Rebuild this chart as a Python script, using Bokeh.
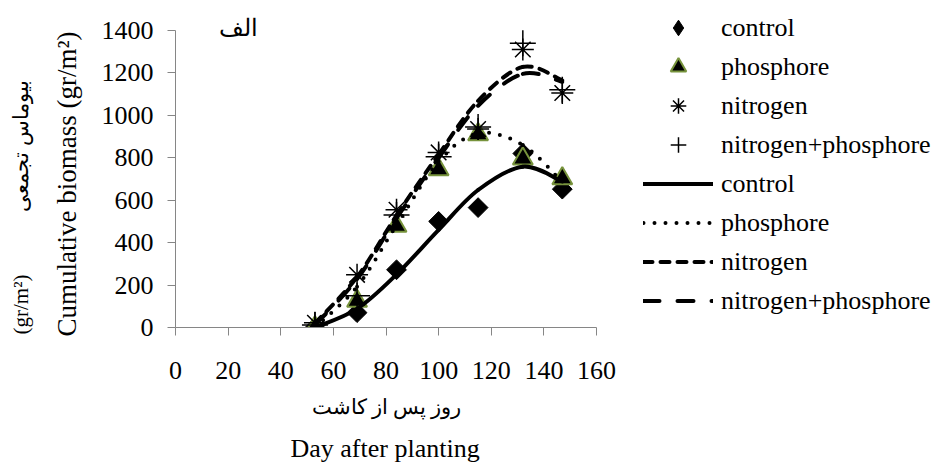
import numpy as np
from bokeh.plotting import figure
from bokeh.models import Range1d, Label, Legend, LegendItem, Title
from bokeh.embed import file_html
from bokeh.resources import INLINE

# ---------------- data ----------------
days = [53, 69, 84, 100, 115, 132, 147]

control_obs = [0, 70, 272, 500, 565, 820, 652]
phosphore_obs = [0, 125, 478, 745, 910, 795, 702]
nitrogen_obs = [22, 248, 555, 825, 935, 1310, 1105]
np_obs = [12, 150, 530, 805, 945, 1340, 1120]

control_fit = [0, 88, 250, 460, 648, 758, 688]
phosphore_fit = [0, 192, 482, 782, 915, 860, 685]
nitrogen_fit = [20, 238, 528, 815, 1068, 1228, 1165]
np_fit = [12, 228, 515, 800, 1045, 1195, 1158]

x_ticks = [0, 20, 40, 60, 80, 100, 120, 140, 160]
y_ticks = [0, 200, 400, 600, 800, 1000, 1200, 1400]

series_names = ["control", "phosphore", "nitrogen", "nitrogen+phosphore"]

FONT = "Liberation Serif"
AXIS_GREY = "#868686"
GREEN = "#77933C"
NB = "\u00a0"

# ---------------- geometry (page pixels) ----------------
W, H = 937, 463
FX0, FX1 = 175.0, 596.0      # x = 0 .. 160
FY0, FY1 = 328.0, 30.0       # y = 0 .. 1400
X_RIGHT = 160 * (W - FX0) / (FX1 - FX0)   # frame extends to canvas right
Y_TOP = 1400 * FY0 / (FY0 - FY1)          # frame extends to canvas top

p = figure(width=W, height=H, output_backend="svg", toolbar_location=None,
           x_range=Range1d(0, X_RIGHT), y_range=Range1d(0, Y_TOP),
           min_border_left=int(FX0), min_border_right=0,
           min_border_top=0, min_border_bottom=int(H - FY0))
p.outline_line_color = None
p.grid.visible = False
p.background_fill_color = "white"
p.border_fill_color = "white"

for ax in (p.xaxis[0], p.yaxis[0]):
    ax.axis_line_color = AXIS_GREY
    ax.major_tick_line_color = AXIS_GREY
    ax.minor_tick_line_color = None
    ax.major_tick_out = 8
    ax.major_tick_in = 0
    ax.major_label_text_font = FONT
    ax.major_label_text_font_size = "26px"
    ax.major_label_text_color = "black"
p.xaxis.ticker = x_ticks
p.yaxis.ticker = y_ticks
p.yaxis.bounds = (0, 1400)
p.xaxis.bounds = (0, 160)
p.yaxis.major_label_standoff = 14
p.xaxis.major_label_standoff = 26


def title(text, size, offset, standoff):
    return Title(text=text, align="left", offset=offset, text_font=FONT,
                 text_font_size=size, text_font_style="normal",
                 text_color="black", standoff=standoff)


# y titles (left side, inner then outer)
p.add_layout(title("Cumulative biomass (gr/m²)", "27px", -9, 33), "left")
p.add_layout(title("(gr/m²)" + NB * 12 + "بیوماس تجمعی", "21px", -7, 1), "left")

# x titles
p.add_layout(title("روز پس از کاشت", "21px", 136, 23), "below")
p.add_layout(title("Day after planting", "26px", 115, 2), "below")

# ---------------- markers ----------------
r_c = p.scatter(days, control_obs, marker="square", angle=np.pi / 4, size=14,
                fill_color="black", line_color="black")
r_p = p.scatter(days, phosphore_obs, marker="triangle", size=20,
                fill_color="black", line_color=GREEN, line_width=2)
r_n = p.scatter(days, nitrogen_obs, marker="asterisk", size=22,
                line_color="black", line_width=1.5)
r_np = p.scatter(days, np_obs, marker="cross", size=26,
                 line_color="black", line_width=1.5)

# legend-only proxy for the diamond key
r_c_key = p.scatter([np.nan], [np.nan], marker="diamond", size=20,
                    fill_color="black", line_color="black")


# ---------------- smoothed lines (Bezier segments, Excel-like) ----------------
def bezier_segments(xs, ys):
    xs = np.asarray(xs, float)
    ys = np.asarray(ys, float)
    n = len(xs)
    out = dict(x0=[], y0=[], x1=[], y1=[], cx0=[], cy0=[], cx1=[], cy1=[])
    for i in range(n - 1):
        im1 = max(i - 1, 0)
        ip2 = min(i + 2, n - 1)
        out["x0"].append(xs[i]); out["y0"].append(ys[i])
        out["x1"].append(xs[i + 1]); out["y1"].append(ys[i + 1])
        out["cx0"].append(xs[i] + (xs[i + 1] - xs[im1]) / 6)
        out["cy0"].append(ys[i] + (ys[i + 1] - ys[im1]) / 6)
        out["cx1"].append(xs[i + 1] - (xs[ip2] - xs[i]) / 6)
        out["cy1"].append(ys[i + 1] - (ys[ip2] - ys[i]) / 6)
    return out


l_c = p.bezier(**bezier_segments(days, control_fit), line_color="black",
               line_width=4, line_cap="round")
l_p = p.bezier(**bezier_segments(days, phosphore_fit), line_color="black",
               line_width=4, line_cap="round", line_dash="0 11")
l_n = p.bezier(**bezier_segments(days, nitrogen_fit), line_color="black",
               line_width=4, line_cap="round", line_dash="9 8")
l_np = p.bezier(**bezier_segments(days, np_fit), line_color="black",
                line_width=4, line_cap="round", line_dash="16 18")

# ---------------- legend ----------------
items = [LegendItem(label=n, renderers=[r]) for n, r in
         zip(series_names, [r_c_key, r_p, r_n, r_np])]
items += [LegendItem(label=n, renderers=[r]) for n, r in
          zip(series_names, [l_c, l_p, l_n, l_np])]
legend = Legend(items=items, location=(int(643 - FX0), 7), orientation="vertical",
                glyph_width=70, glyph_height=39, label_height=39,
                label_standoff=8, spacing=0, padding=0, margin=0,
                border_line_alpha=0, background_fill_alpha=0,
                label_text_font=FONT, label_text_font_size="26px",
                label_text_color="black")
p.add_layout(legend, "center")

# ---------------- panel letter ----------------
p.add_layout(Label(x=(238 - FX0) / (FX1 - FX0) * 160,
                   y=(FY0 - 28) / (FY0 - FY1) * 1400,
                   text="الف", text_font=FONT, text_font_size="24px",
                   text_align="center", text_baseline="middle",
                   text_color="black"))

open("out.html", "w").write(file_html(p, INLINE))
